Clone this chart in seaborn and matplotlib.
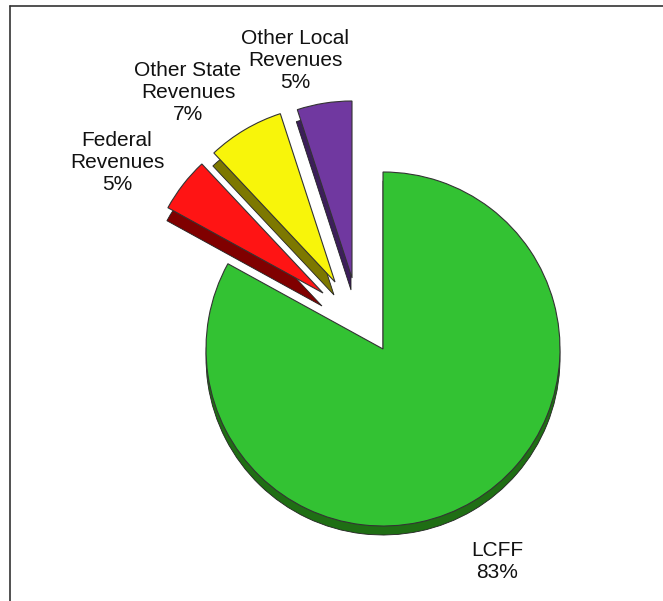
import numpy as np
import matplotlib
matplotlib.use('Agg')
import matplotlib.pyplot as plt
from matplotlib.lines import Line2D
import seaborn as sns

# 数据
labels = ['LCFF', 'Federal\nRevenues', 'Other State\nRevenues', 'Other Local\nRevenues']
shares = [83, 5, 7, 5]

# 颜色：顶面 / 侧面
top_colors = ['#33c233', '#ff1414', '#f8f50a', '#7038a0']
side_colors = ['#1f6e14', '#800000', '#7d7800', '#3c1e5a']

sns.set_theme(style='white')
plt.rcParams['font.family'] = ['Liberation Sans', 'DejaVu Sans']

W, H = 663, 601
fig = plt.figure(figsize=(W / 100, H / 100), dpi=100)
ax = fig.add_axes([0, 0, 1, 1])

# 像素坐标系 (y 向上)
cx, cy = 383, H - 349
radius = 177
offsets = [(0, 0), (-60, 56), (-48, 67), (-31, 71)]   # 分离的扇区位移
depths = [(0, -9), (-1, -13), (-1, -13), (-1, -12)]  # 立体厚度

# 侧面（阴影）
side, _ = ax.pie(shares, colors=side_colors, startangle=90, counterclock=False,
                 radius=radius, center=(cx, cy),
                 wedgeprops=dict(linewidth=0.6, edgecolor='#222222'))
for w, (dx, dy), (ddx, ddy) in zip(side, offsets, depths):
    w.set_center((cx + dx + ddx, cy + dy + ddy))
    w.set_zorder(1)

# 顶面
top, _ = ax.pie(shares, colors=top_colors, startangle=90, counterclock=False,
                radius=radius, center=(cx, cy),
                wedgeprops=dict(linewidth=0.8, edgecolor='#333333'))
for w, (dx, dy) in zip(top, offsets):
    w.set_center((cx + dx, cy + dy))
    w.set_zorder(2)

# 标签
label_pos = [(497, H - 561), (117, H - 163), (188, H - 92), (295, H - 61)]
for lab, s, (tx, ty) in zip(labels, shares, label_pos):
    ax.text(tx, ty, f'{lab}\n{s}%', ha='center', va='center',
            fontsize=15, linespacing=1.2, color='#111111', zorder=5)

ax.set_xlim(0, W)
ax.set_ylim(0, H)
ax.set_aspect('auto')
ax.axis('off')

# 外框（左、上）
fig.add_artist(Line2D([9.5 / W, 9.5 / W], [0, 1 - 5.5 / H], transform=fig.transFigure,
                      color='#333333', linewidth=1.2))
fig.add_artist(Line2D([9.5 / W, 1], [1 - 5.5 / H, 1 - 5.5 / H], transform=fig.transFigure,
                      color='#333333', linewidth=1.2))

fig.savefig('out.png', dpi=100)
